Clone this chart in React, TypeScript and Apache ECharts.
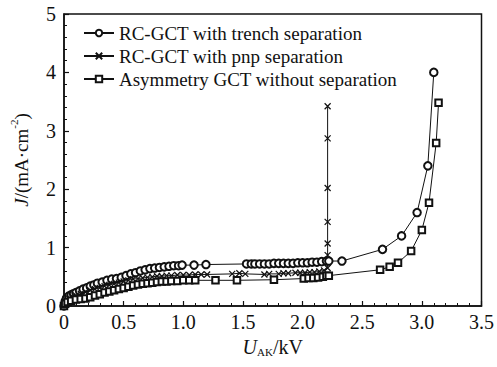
import React, { useEffect, useRef } from "react";
import * as echarts from "echarts";

const xTicks = [0, 0.5, 1.0, 1.5, 2.0, 2.5, 3.0, 3.5];
const yTicks = [0, 1, 2, 3, 4, 5];

const seriesNames = [
  "RC-GCT with trench separation",
  "RC-GCT with pnp separation",
  "Asymmetry GCT without separation",
];

const trench: [number, number][] = [
  [0, 0], [0.01, 0.08], [0.02, 0.13], [0.04, 0.17], [0.06, 0.19], [0.08, 0.21], [0.1, 0.23],
  [0.13, 0.26], [0.16, 0.29], [0.19, 0.31], [0.22, 0.34], [0.25, 0.36], [0.28, 0.39],
  [0.32, 0.41], [0.36, 0.44], [0.4, 0.46], [0.44, 0.47], [0.48, 0.49], [0.52, 0.52],
  [0.56, 0.55], [0.6, 0.57], [0.64, 0.6], [0.68, 0.62], [0.72, 0.64], [0.76, 0.65],
  [0.8, 0.66], [0.84, 0.67], [0.88, 0.68], [0.92, 0.69], [0.96, 0.69], [0.99, 0.7],
  [1.09, 0.7], [1.19, 0.71], [1.53, 0.72], [1.57, 0.72], [1.6, 0.72], [1.64, 0.72],
  [1.68, 0.72], [1.72, 0.72], [1.76, 0.73], [1.8, 0.73], [1.84, 0.73], [1.88, 0.73],
  [1.92, 0.73], [1.96, 0.74], [2.0, 0.74], [2.04, 0.74], [2.08, 0.75], [2.12, 0.75],
  [2.16, 0.76], [2.2, 0.77], [2.22, 0.77], [2.33, 0.77], [2.67, 0.97], [2.83, 1.2],
  [2.96, 1.6], [3.05, 2.4], [3.1, 4.0],
];

const pnp: [number, number][] = [
  [0, 0], [0.01, 0.06], [0.02, 0.1], [0.04, 0.13], [0.07, 0.16], [0.1, 0.18], [0.14, 0.21],
  [0.18, 0.24], [0.22, 0.27], [0.26, 0.29], [0.3, 0.31], [0.34, 0.34], [0.38, 0.36],
  [0.42, 0.38], [0.46, 0.4], [0.5, 0.42], [0.54, 0.44], [0.58, 0.46], [0.62, 0.47],
  [0.66, 0.48], [0.7, 0.49], [0.74, 0.5], [0.78, 0.51], [0.82, 0.51], [0.86, 0.52],
  [0.9, 0.52], [0.95, 0.53], [1.0, 0.53], [1.05, 0.53], [1.1, 0.54], [1.15, 0.54],
  [1.2, 0.54], [1.41, 0.55], [1.47, 0.56], [1.52, 0.55], [1.68, 0.54], [1.72, 0.55],
  [1.8, 0.55], [1.84, 0.56], [1.88, 0.56], [1.94, 0.57], [1.98, 0.57], [2.02, 0.57],
  [2.06, 0.58], [2.1, 0.58], [2.14, 0.59], [2.18, 0.61], [2.21, 0.65], [2.21, 0.87],
  [2.21, 1.07], [2.21, 1.44], [2.21, 2.02], [2.21, 2.87], [2.21, 3.42],
];

const asym: [number, number][] = [
  [0, 0], [0.01, 0.04], [0.03, 0.07], [0.06, 0.09], [0.1, 0.11], [0.14, 0.12], [0.18, 0.13],
  [0.22, 0.15], [0.26, 0.18], [0.3, 0.2], [0.34, 0.23], [0.38, 0.25], [0.42, 0.27],
  [0.46, 0.29], [0.5, 0.31], [0.54, 0.33], [0.58, 0.35], [0.62, 0.37], [0.66, 0.38],
  [0.7, 0.39], [0.74, 0.4], [0.78, 0.41], [0.82, 0.42], [0.86, 0.42], [0.9, 0.43],
  [0.95, 0.43], [1.0, 0.44], [1.05, 0.44], [1.1, 0.44], [1.27, 0.44], [1.45, 0.44],
  [1.76, 0.45], [2.01, 0.47], [2.05, 0.48], [2.09, 0.48], [2.13, 0.49], [2.17, 0.5],
  [2.2, 0.52], [2.22, 0.52], [2.65, 0.62], [2.73, 0.67], [2.8, 0.74], [2.91, 0.94],
  [3.0, 1.3], [3.06, 1.77], [3.12, 2.79], [3.14, 3.48],
];

const FONT = "'Liberation Serif', 'Times New Roman', serif";
const INK = "#111";

export default function App() {
  const ref = useRef<HTMLDivElement>(null);
  useEffect(() => {
    if (!ref.current) return;
    const chart = echarts.init(ref.current, null, { renderer: "svg" });
    const lineBase = {
      type: "line" as const,
      animation: false,
      showAllSymbol: true,
      lineStyle: { color: INK, width: 1 },
    };
    chart.setOption({
      animation: false,
      backgroundColor: "#fff",
      grid: {
        left: 58, right: 12, top: 14, bottom: 61,
        show: true, borderColor: INK, borderWidth: 1.5, backgroundColor: "transparent",
      },
      legend: {
        orient: "vertical",
        left: 78,
        top: 18,
        itemWidth: 30,
        itemHeight: 8,
        itemGap: 3,
        textStyle: { fontFamily: FONT, fontSize: 19, color: INK, lineHeight: 20 },
        data: seriesNames,
      },
      xAxis: {
        type: "value",
        min: 0, max: 3.5, interval: 0.5,
        name: "{u|U}{s|AK}{n|/kV}",
        nameLocation: "middle",
        nameGap: 26,
        nameTextStyle: {
          fontFamily: FONT, fontSize: 20, color: INK,
          rich: {
            u: { fontFamily: FONT, fontSize: 20, fontStyle: "italic", color: INK, lineHeight: 22 },
            s: { fontFamily: FONT, fontSize: 11, color: INK, lineHeight: 22, verticalAlign: "bottom", padding: [8, 0, 0, 0] },
            n: { fontFamily: FONT, fontSize: 20, color: INK, lineHeight: 22 },
          },
        },
        axisLine: { show: true, lineStyle: { color: INK, width: 1.5 } },
        axisTick: { show: true, inside: true, length: 5, lineStyle: { color: INK, width: 1.2 } },
        minorTick: { show: true, splitNumber: 5, length: 3, lineStyle: { color: INK, width: 1 } },
        splitLine: { show: false },
        axisLabel: {
          fontFamily: FONT, fontSize: 20, color: INK, margin: 6,
          formatter: (v: number) => {
            const t = xTicks.find((k) => Math.abs(k - v) < 1e-9);
            if (t === undefined) return "";
            return t === 0 ? "0" : t.toFixed(1);
          },
        },
      },
      yAxis: {
        type: "value",
        min: 0, max: 5, interval: 1,
        name: "{i|J}{n|/(mA·cm}{p|-2}{n|)}",
        nameLocation: "middle",
        nameGap: 30,
        nameRotate: 90,
        nameTextStyle: {
          fontFamily: FONT, fontSize: 19, color: INK,
          rich: {
            i: { fontFamily: FONT, fontSize: 19, fontStyle: "italic", color: INK, lineHeight: 26 },
            n: { fontFamily: FONT, fontSize: 19, color: INK, lineHeight: 26 },
            p: { fontFamily: FONT, fontSize: 11, color: INK, lineHeight: 26, verticalAlign: "top" },
          },
        },
        axisLine: { show: true, lineStyle: { color: INK, width: 1.5 } },
        axisTick: { show: true, inside: true, length: 5, lineStyle: { color: INK, width: 1.2 } },
        minorTick: { show: true, splitNumber: 5, length: 3, lineStyle: { color: INK, width: 1 } },
        splitLine: { show: false },
        axisLabel: {
          fontFamily: FONT, fontSize: 20, color: INK, margin: 8,
          formatter: (v: number) => (yTicks.includes(v) ? String(v) : ""),
        },
      },
      series: [
        {
          ...lineBase,
          name: seriesNames[0],
          data: trench,
          symbol: "emptyCircle",
          symbolSize: 7.5,
          itemStyle: { color: INK, borderColor: INK, borderWidth: 1 },
        },
        {
          ...lineBase,
          name: seriesNames[1],
          data: pnp,
          symbol: "path://M0,0L10,10M10,0L0,10",
          symbolSize: 6,
          itemStyle: { color: "none", borderColor: INK, borderWidth: 1.2 },
        },
        {
          ...lineBase,
          name: seriesNames[2],
          data: asym,
          symbol: "emptyRect",
          symbolSize: 6.5,
          itemStyle: { color: INK, borderColor: INK, borderWidth: 1 },
        },
      ],
    });
    return () => chart.dispose();
  }, []);
  return (
    <div
      ref={ref}
      style={{ position: "absolute", left: 0, top: 0, width: 497, height: 367 }}
    />
  );
}
